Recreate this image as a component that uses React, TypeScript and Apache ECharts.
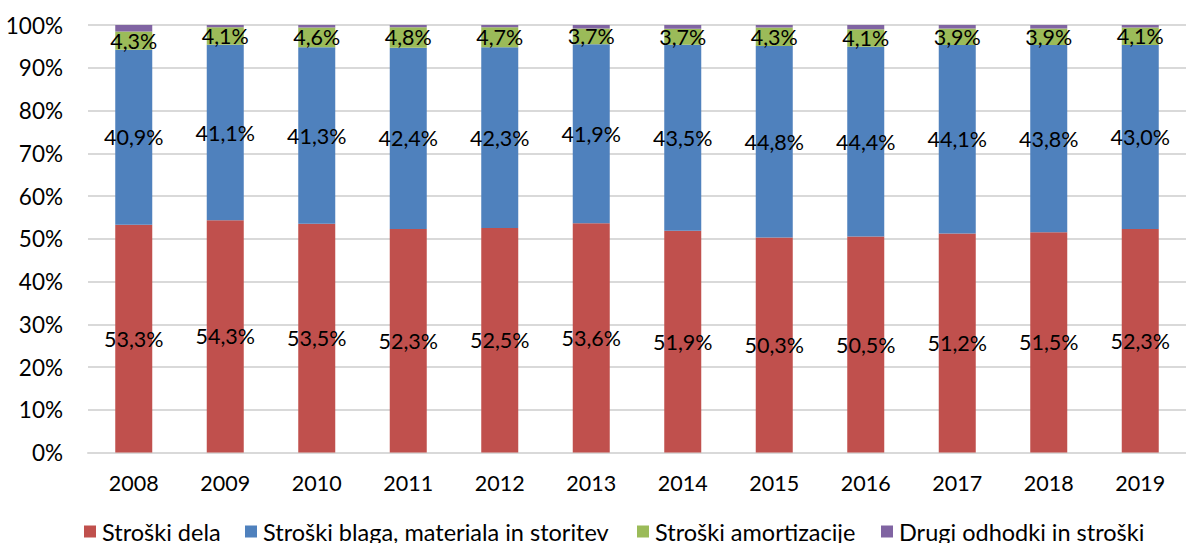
import React, { useEffect, useRef } from "react";
import * as echarts from "echarts";

const years = ["2008", "2009", "2010", "2011", "2012", "2013", "2014", "2015", "2016", "2017", "2018", "2019"];
const seriesNames = [
  "Stroški dela",
  "Stroški blaga, materiala in storitev",
  "Stroški amortizacije",
  "Drugi odhodki in stroški",
];
const strDela = [53.3, 54.3, 53.5, 52.3, 52.5, 53.6, 51.9, 50.3, 50.5, 51.2, 51.5, 52.3];
const strBlaga = [40.9, 41.1, 41.3, 42.4, 42.3, 41.9, 43.5, 44.8, 44.4, 44.1, 43.8, 43.0];
const strAmort = [4.3, 4.1, 4.6, 4.8, 4.7, 3.7, 3.7, 4.3, 4.1, 3.9, 3.9, 4.1];
const drugi = [1.5, 0.5, 0.6, 0.5, 0.5, 0.8, 0.9, 0.6, 1.0, 0.8, 0.8, 0.6];
const colors = ["#C0504D", "#4F81BD", "#9BBB59", "#8064A2"];
const legendLeft = [84, 245, 637, 881];

const FONT = "Lato";

export default function App() {
  const ref = useRef<HTMLDivElement>(null);
  useEffect(() => {
    if (!ref.current) return;
    const chart = echarts.init(ref.current, null, { renderer: "svg" });
    const dataSets = [strDela, strBlaga, strAmort, drugi];
    const fmt = (p: any) => p.value.toFixed(1).replace(".", ",") + "%";
    chart.setOption({
      animation: false,
      textStyle: { fontFamily: FONT },
      grid: { left: 88, top: 25, width: 1110, height: 427.5, containLabel: false },
      legend: seriesNames.map((n, i) => ({
        data: [n],
        left: legendLeft[i],
        top: 518,
        itemWidth: 12,
        itemHeight: 12,
        icon: "rect",
        itemGap: 0,
        textStyle: { fontFamily: FONT, fontSize: 23.5, color: "#000", lineHeight: 27, padding: [0, 0, 0, 1] },
        padding: 0,
        selectedMode: false,
      })),
      xAxis: {
        type: "category",
        data: years,
        axisLine: { show: true, lineStyle: { color: "#d9d9d9", width: 2 } },
        axisTick: { show: false },
        axisLabel: { fontFamily: FONT, fontSize: 21.5, color: "#000", margin: 19 },
      },
      yAxis: {
        type: "value",
        min: 0,
        max: 100,
        interval: 10,
        axisLine: { show: false },
        axisTick: { show: false },
        axisLabel: { fontFamily: FONT, fontSize: 22.5, color: "#000", margin: 25, formatter: "{value}%" },
        splitLine: { lineStyle: { color: "#d9d9d9", width: 2 } },
      },
      series: seriesNames.map((n, i) => ({
        name: n,
        type: "bar",
        stack: "total",
        barWidth: 37,
        data: dataSets[i],
        itemStyle: { color: colors[i] },
        label: {
          show: i < 3,
          position: "inside",
          formatter: fmt,
          fontFamily: FONT,
          fontSize: 21.5,
          color: "#000",
          overflow: "none",
        },
      })),
    });
    return () => chart.dispose();
  }, []);
  return <div ref={ref} style={{ position: "fixed", left: 0, top: 0, width: 1186, height: 543, background: "#fff" }} />;
}
